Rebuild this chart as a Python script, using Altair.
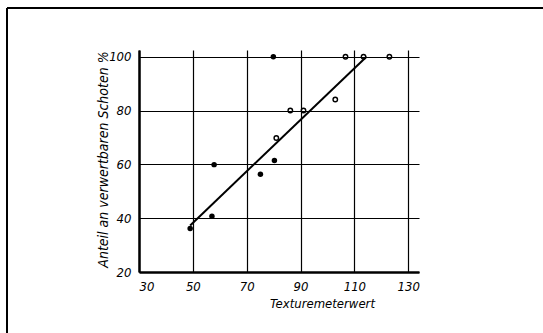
import altair as alt
import pandas as pd

# Data
x_filled = [49, 57.1, 57.9, 75.1, 79.9, 80.3]
y_filled = [36.2, 40.7, 59.9, 56.3, 100, 61.4]
x_open = [81.0, 86.2, 91.1, 102.9, 106.7, 113.4, 123]
y_open = [69.8, 80, 80, 84.1, 100, 100, 100]
line_x = [49, 114.5]
line_y = [37.3, 100]

x_ticks = [30, 50, 70, 90, 110, 130]
y_ticks = [20, 40, 60, 80, 100]

x_title = "Texturemeterwert"
y_title = "Anteil an verwertbaren Schoten %"

df_f = pd.DataFrame({"x": x_filled, "y": y_filled})
df_o = pd.DataFrame({"x": x_open, "y": y_open})
df_l = pd.DataFrame({"x": line_x, "y": line_y})
df_one = pd.DataFrame({"a": [0]})

W, H = 280, 222
PL, PT = 139, 50
FONT = "Liberation Sans Narrow, DejaVu Sans Condensed, Liberation Sans"

xs = alt.Scale(domain=[30, 134], nice=False, zero=False)
ys = alt.Scale(domain=[20, 102.5], nice=False, zero=False)

xax = alt.Axis(values=x_ticks, title=x_title, titleX=183, titleY=31,
               titleAlign="center", titleBaseline="middle", labelPadding=8,
               titleFontSize=13)
yax = alt.Axis(values=y_ticks, title=y_title, titleX=-36, titleY=109,
               titleAngle=-90, titleAlign="center", titleBaseline="middle",
               labelPadding=8, titleFontSize=14)

base_x = alt.X("x:Q", scale=xs, axis=xax)
base_y = alt.Y("y:Q", scale=ys, axis=yax)

filled = alt.Chart(df_f).mark_circle(size=30, color="black", opacity=1).encode(x=base_x, y=base_y)
opened = alt.Chart(df_o).mark_point(size=20, color="black", strokeWidth=1.4, filled=False, opacity=1).encode(
    x=base_x, y=base_y)
line = alt.Chart(df_l).mark_line(color="black", strokeWidth=2).encode(x=base_x, y=base_y)

frame_top = alt.Chart(df_one).mark_rule(color="black", strokeWidth=2).encode(
    x=alt.value(7 - PL), x2=alt.value(543 - PL), y=alt.value(8 - PT))
frame_left = alt.Chart(df_one).mark_rule(color="black", strokeWidth=2).encode(
    x=alt.value(7 - PL), y=alt.value(8 - PT), y2=alt.value(333 - PT))

chart = alt.layer(line, filled, opened, frame_top, frame_left).properties(
    width=W, height=H,
    autosize=alt.AutoSizeParams(type="none"),
    padding={"left": PL, "top": PT, "right": 543 - PL - W, "bottom": 333 - PT - H},
    background="white",
).configure_view(stroke=None).configure_axis(
    domainColor="black", domainWidth=2.5, gridColor="black", gridWidth=1.2, gridOpacity=1,
    ticks=False, labelFont=FONT, labelFontStyle="italic", labelFontSize=13,
    labelColor="black", titleFont=FONT, titleFontStyle="italic",
    titleFontWeight="normal", titleColor="black",
)

chart.save("out.html", embed_options={"renderer": "svg", "actions": False})
